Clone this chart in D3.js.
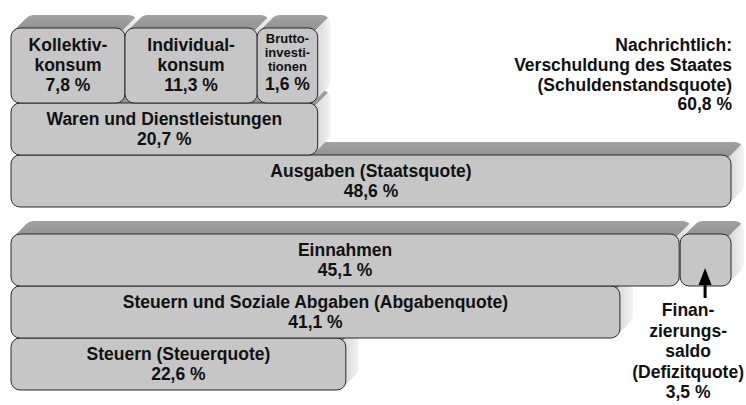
<!DOCTYPE html>
<html>
<head>
<meta charset="utf-8">
<script src="https://cdn.jsdelivr.net/npm/d3@7"></script>
<style>
  body { margin: 0; background: #fff; }
  text { font-family: "Liberation Sans", Arial, sans-serif; font-weight: bold; fill: #111; }
</style>
</head>
<body>
<svg id="chart" width="746" height="405"></svg>
<script>
// Data
const consumptionLabels = [["Kollektiv-", "konsum"], ["Individual-", "konsum"], ["Brutto-", "investi-", "tionen"]];
const consumptionValues = [7.8, 11.3, 1.6];
const spendingLabels = ["Waren und Dienstleistungen", "Ausgaben (Staatsquote)"];
const spendingValues = [20.7, 48.6];
const revenueLabels = ["Einnahmen", "Steuern und Soziale Abgaben (Abgabenquote)", "Steuern (Steuerquote)"];
const revenueValues = [45.1, 41.1, 22.6];
const balanceLabel = ["Finan-", "zierungs-", "saldo", "(Defizitquote)"];
const balanceValue = 3.5;
const debtLabel = ["Nachrichtlich:", "Verschuldung des Staates", "(Schuldenstandsquote)"];
const debtValue = 60.8;

const de = d3.formatLocale({decimal: ",", thousands: ".", grouping: [3], currency: ["", " €"]});
const pct = v => de.format(".1f")(v) + " %";

// layout
const W = 746, H = 405;
const depth = 13, r = 9;
const rowH = 52, topRowH = 75;
const topY = 28;          // upper block, first row
const lowY = 234;         // lower block, first row
const fs = 17.5;

const svg = d3.select("#chart");

const defs = svg.append("defs");
const sideGrad = defs.append("linearGradient").attr("id", "side").attr("x1", 0).attr("x2", 1).attr("y1", 0).attr("y2", 0);
sideGrad.append("stop").attr("offset", "0%").attr("stop-color", "#d6d6d6");
sideGrad.append("stop").attr("offset", "100%").attr("stop-color", "#f3f3f3");
const topGrad = defs.append("linearGradient").attr("id", "top").attr("x1", 0).attr("x2", 0).attr("y1", 0).attr("y2", 1);
topGrad.append("stop").attr("offset", "0%").attr("stop-color", "#a2a2a2");
topGrad.append("stop").attr("offset", "100%").attr("stop-color", "#919191");

const x = d3.scaleLinear()
    .domain([0, d3.max(spendingValues)])
    .range([11, 731]);

function box(g, x0, x1, y0, y1) {
  const p = r * (1 - Math.SQRT1_2), d = depth;
  g.append("path")
      .attr("fill", "url(#top)")
      .attr("d", `M${x0 + p},${y0 + p} L${x0 + p + d},${y0 + p - d} A${r},${r} 0 0 1 ${x0 + r + d},${y0 - d}
        L${x1 - r + d},${y0 - d} A${r},${r} 0 0 1 ${x1 - p + d},${y0 + p - d} L${x1 - p},${y0 + p} Z`);
  g.append("path")
      .attr("fill", "url(#side)")
      .attr("d", `M${x1 - p},${y0 + p} L${x1 - p + d},${y0 + p - d} A${r},${r} 0 0 1 ${x1 + d},${y0 - d + r}
        L${x1 + d},${y1 - d - r} A${r},${r} 0 0 1 ${x1 + d - p},${y1 - d - p} L${x1 - p},${y1 - p} Z`);
  g.append("rect")
      .attr("x", x0).attr("y", y0)
      .attr("width", x1 - x0).attr("height", y1 - y0)
      .attr("rx", r)
      .attr("fill", "#c6c6c6")
      .attr("stroke", "#2a2a2a")
      .attr("stroke-width", 1);
}

function lines(g, cx, ys, texts, size, anchor) {
  g.selectAll(null)
    .data(texts)
    .enter()
    .append("text")
      .attr("x", cx)
      .attr("y", (t, i) => ys[i])
      .attr("text-anchor", anchor || "middle")
      .attr("dominant-baseline", "central")
      .style("font-size", (t, i) => (Array.isArray(size) ? size[i] : size) + "px")
      .text(t => t);
}

const chart = svg.append("g");

// upper block: drawn bottom row first so upper fronts cover lower top faces
spendingValues.slice().reverse().forEach((v, k) => {
  const i = spendingValues.length - 1 - k;
  const y0 = topY + topRowH + i * rowH, y1 = y0 + rowH;
  const g = chart.append("g");
  box(g, x(0), x(v), y0, y1);
  const cx = (x(0) + x(v)) / 2, cy = (y0 + y1) / 2;
  lines(g, cx, [cy - 10, cy + 10], [spendingLabels[i], pct(v)], fs);
});

// top row: split of "Waren und Dienstleistungen" (compressed so small parts stay readable)
const weights = consumptionValues.map(v => Math.pow(v, 0.4));
const cum = [0].concat(Array.from(d3.cumsum(weights)));
const xs = d3.scaleLinear().domain([0, d3.sum(weights)]).range([x(0), x(spendingValues[0])]);
consumptionValues.forEach((v, i) => {
  const x0 = xs(cum[i]), x1 = xs(cum[i + 1]);
  const y0 = topY, y1 = topY + topRowH;
  const g = chart.append("g");
  box(g, x0, x1, y0, y1);
  const cx = (x0 + x1) / 2;
  const lab = consumptionLabels[i];
  if (lab.length === 3) {
    lines(g, cx, [y0 + 10, y0 + 24, y0 + 38, y0 + 56], lab.concat(pct(v)), [13, 13, 13, fs]);
  } else {
    lines(g, cx, [y0 + 17, y0 + 37, y0 + 57], lab.concat(pct(v)), fs);
  }
});

// lower block
revenueValues.slice().reverse().forEach((v, k) => {
  const i = revenueValues.length - 1 - k;
  const y0 = lowY + i * rowH, y1 = y0 + rowH;
  const g = chart.append("g");
  box(g, x(0), x(v), y0, y1);
  const cx = (x(0) + x(v)) / 2, cy = (y0 + y1) / 2;
  lines(g, cx, [cy - 10, cy + 10], [revenueLabels[i], pct(v)], fs);
});

// financing balance on top of revenue
const b0 = x(revenueValues[0]), b1 = x(revenueValues[0] + balanceValue);
const gb = chart.append("g");
box(gb, b0 + 1, b1, lowY, lowY + rowH);
const bcx = (b0 + b1) / 2;
const ay0 = lowY + 34, ay1 = lowY + rowH + 12;
gb.append("line")
    .attr("x1", bcx).attr("x2", bcx)
    .attr("y1", ay0 + 10).attr("y2", ay1)
    .attr("stroke", "#000").attr("stroke-width", 3);
gb.append("path")
    .attr("d", `M${bcx},${ay0} L${bcx + 6.5},${ay0 + 17} L${bcx - 6.5},${ay0 + 17} Z`)
    .attr("fill", "#000");

const balTexts = balanceLabel.concat(pct(balanceValue));
const balYs = balTexts.map((t, i) => lowY + rowH + 24 + i * 20.5);
const tmp = gb.append("text").style("font-size", fs + "px").text("(Defizitquote)");
const maxW = tmp.node().getComputedTextLength();
tmp.remove();
const tcx = Math.min(bcx, W - 2 - maxW / 2);
lines(gb, tcx, balYs, balTexts, fs);

// note on debt
const nx = x.range()[1] + 1;
lines(chart, nx, [45, 65, 85, 104], debtLabel.concat(pct(debtValue)), fs, "end");
</script>
</body>
</html>
